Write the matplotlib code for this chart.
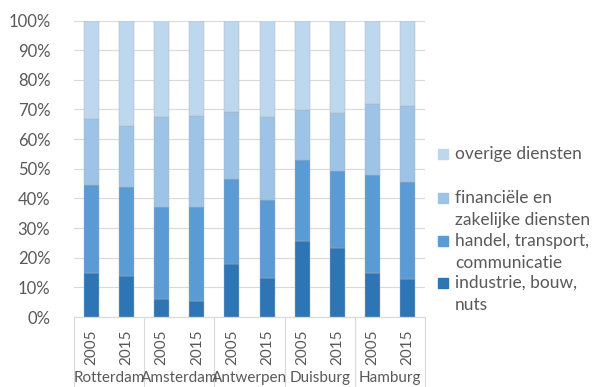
import numpy as np
import matplotlib.pyplot as plt
from matplotlib.patches import Rectangle

plt.rcParams['font.family'] = ['Lato', 'DejaVu Sans']

# share of employment per sector (%), stacked from the bottom
cities = ['Rotterdam', 'Amsterdam', 'Antwerpen', 'Duisburg', 'Hamburg']
years = ['2005', '2015']
industrie = [14.7, 13.7, 6.2, 5.5, 17.9, 13.3, 25.5, 23.3, 14.8, 12.8]
handel = [29.8, 30.3, 31.0, 31.5, 28.6, 26.2, 27.5, 26.0, 33.2, 32.7]
financieel = [22.3, 20.4, 30.2, 30.9, 22.5, 27.9, 16.8, 19.4, 23.9, 25.7]
overig = [33.2, 35.6, 32.6, 32.1, 31.0, 32.6, 30.2, 31.3, 28.1, 28.8]

series = [
    ('industrie, bouw,\nnuts', industrie, '#2E75B6'),
    ('handel, transport,\ncommunicatie', handel, '#5B9BD5'),
    ('financiële en\nzakelijke diensten', financieel, '#9DC3E6'),
    ('overige diensten', overig, '#BDD7EE'),
]

text_col = '#595959'
W, H = 603, 387
fig = plt.figure(figsize=(W / 100, H / 100), dpi=100)
ax = fig.add_axes([74 / W, 1 - 317 / H, 351 / W, 296.5 / H])

x = np.arange(len(industrie))
bottom = np.zeros(len(x))
for name, vals, col in series:
    ax.bar(x, vals, 0.43, bottom=bottom, color=col, zorder=3,
           edgecolor='#b0b0b0', linewidth=0.3)
    bottom += np.array(vals)

ax.set_xlim(-0.5, len(x) - 0.5)
ax.set_ylim(0, 100)
ax.set_yticks(np.arange(0, 101, 10))
ax.set_yticklabels([f'{v}%' for v in range(0, 101, 10)])
ax.yaxis.grid(True, color='#D9D9D9', linewidth=0.8, zorder=0)
ax.tick_params(axis='y', length=0, pad=17, labelsize=12, labelcolor=text_col)
for s in ['left', 'right', 'top']:
    ax.spines[s].set_visible(False)
ax.spines['bottom'].set_color('#D9D9D9')

# year labels under each bar, city names under each pair
ax.set_xticks(x)
ax.set_xticklabels(years * len(cities), rotation=90)
ax.tick_params(axis='x', length=0, pad=9, labelsize=11, labelcolor=text_col)
tr = ax.get_xaxis_transform()
for i in range(len(cities) + 1):
    ax.plot([i * 2 - 0.5] * 2, [0, -0.24], transform=tr, color='#D9D9D9',
            linewidth=0.8, clip_on=False)
for i, c in enumerate(cities):
    ax.text(i * 2 + 0.5, -0.205, c, transform=tr, ha='center', va='center',
            fontsize=11, color=text_col)

# legend, top entry first
legend_rows = [(154, 3), (198, 2), (241, 1), (283, 0)]
for yc, k in legend_rows:
    name, vals, col = series[k]
    fig.patches.append(Rectangle((438 / W, 1 - (yc + 5) / H), 10 / W, 10 / H,
                                 transform=fig.transFigure, color=col))
    lines = name.split('\n')
    for j, ln in enumerate(lines):
        fig.text(455 / W, 1 - (yc + j * 22) / H, ln, ha='left', va='center',
                 fontsize=12.5, color=text_col)

fig.savefig('out.png', dpi=100)
